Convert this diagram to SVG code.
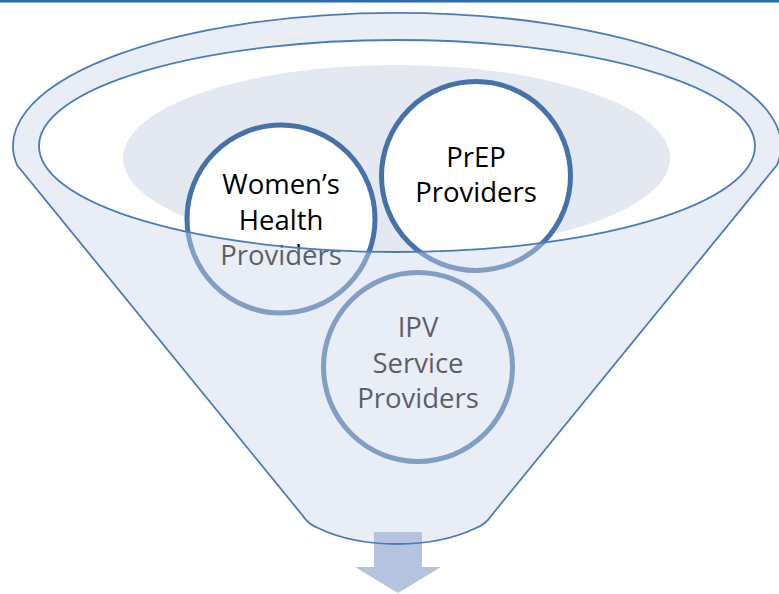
<svg xmlns="http://www.w3.org/2000/svg" width="779" height="594" viewBox="0 0 779 594">
  <style>
    .outline { fill: none; stroke: #4A7CB8; stroke-width: 1.8; }
    .circle { fill: #FFFFFF; stroke: #4672AA; stroke-width: 5; }
    .label { font-family: "Open Sans", "Liberation Sans", sans-serif; font-size: 27.5px; fill: #000000; text-anchor: middle; }
  </style>
  <rect x="0" y="0" width="779" height="594" fill="#FFFFFF"/>
  <rect x="0" y="0" width="779" height="2.5" fill="#2C6DAF"/>

  <g id="funnel-back">
    <path d="M 13,146 A 384 133 0 0 1 781,146 L 755,146 A 358 106 0 0 0 39,146 Z" fill="#E9EDF5"/>
    <ellipse cx="396.5" cy="158" rx="273.5" ry="93" fill="#E4E8F1"/>
  </g>

  <g id="node-womens-health">
    <circle class="circle" cx="281" cy="219" r="94"/>
    <text class="label" x="281" y="194">Women’s</text>
    <text class="label" x="281" y="230">Health</text>
    <text class="label" x="281" y="265">Providers</text>
  </g>

  <g id="node-prep">
    <circle class="circle" cx="476" cy="176" r="94.5"/>
    <text class="label" x="476" y="167">PrEP</text>
    <text class="label" x="476" y="202">Providers</text>
  </g>

  <g id="node-ipv">
    <circle class="circle" cx="418" cy="367" r="94.5"/>
    <text class="label" x="418" y="337">IPV</text>
    <text class="label" x="418" y="373">Service</text>
    <text class="label" x="418" y="408">Providers</text>
  </g>

  <g id="funnel-front">
    <path d="M 39,146 A 358 106 0 0 0 755,146 L 781,146 A 384 133 0 0 1 777,165 L 491,516 Q 486,524 476,528 C 449,541 419,544 397,544 C 375,544 345,541 318,528 Q 308,524 303,516 L 17,165 A 384 133 0 0 1 13,146 Z" fill="rgb(206,214,232)" fill-opacity="0.44"/>
  </g>

  <g id="connectors">
    <path d="M 374,532 L 422,532 L 422,567 L 441,567 L 398,593 L 355,567 L 374,567 Z" fill="#B4C3DE"/>
  </g>

  <g id="funnel-outline">
    <path class="outline" d="M 17,165 A 384 133 0 1 1 777,165 L 491,516 Q 486,524 476,528 C 449,541 419,544 397,544 C 375,544 345,541 318,528 Q 308,524 303,516 Z"/>
    <ellipse class="outline" cx="397" cy="146" rx="358" ry="106"/>
  </g>
</svg>
